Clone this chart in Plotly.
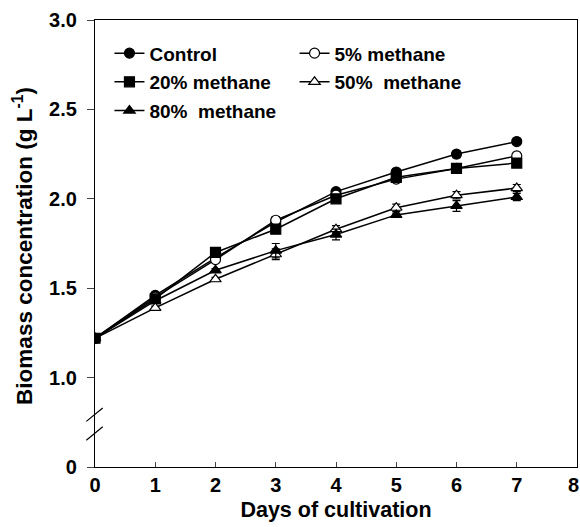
import plotly.graph_objects as go

days = [0, 1, 2, 3, 4, 5, 6, 7]

control = [1.22, 1.46, 1.67, 1.87, 2.04, 2.15, 2.25, 2.32]
control_err = [0.0, 0.01, 0.01, 0.01, 0.01, 0.01, 0.02, 0.01]
m5 = [1.22, 1.45, 1.66, 1.88, 2.02, 2.11, 2.17, 2.24]
m5_err = [0.0, 0.01, 0.01, 0.02, 0.01, 0.01, 0.01, 0.02]
m20 = [1.22, 1.44, 1.70, 1.83, 2.00, 2.12, 2.17, 2.20]
m20_err = [0.0, 0.01, 0.01, 0.01, 0.01, 0.01, 0.01, 0.01]
m50 = [1.22, 1.39, 1.55, 1.69, 1.83, 1.95, 2.02, 2.06]
m50_err = [0.0, 0.01, 0.01, 0.03, 0.02, 0.02, 0.02, 0.02]
m80 = [1.22, 1.43, 1.60, 1.71, 1.80, 1.91, 1.96, 2.01]
m80_err = [0.0, 0.01, 0.01, 0.04, 0.03, 0.01, 0.03, 0.02]

y_tickvals = [0.5, 1.0, 1.5, 2.0, 2.5, 3.0]
y_ticktext = ["0", "1.0", "1.5", "2.0", "2.5", "3.0"]
x_tickvals = [0, 1, 2, 3, 4, 5, 6, 7]
x_last_label = "8"

FONT = "Liberation Sans"
fig = go.Figure()

series = [
    ("Control", control, control_err, "circle", "black", "legend", "g1"),
    ("5% methane", m5, m5_err, "circle", "white", "legend2", "g2"),
    ("20% methane", m20, m20_err, "square", "black", "legend", "g3"),
    ("50%  methane", m50, m50_err, "triangle-up", "white", "legend2", "g4"),
    ("80%  methane", m80, m80_err, "triangle-up", "black", "legend", "g5"),
]

for name, vals, err, sym, fill, leg, grp in series:
    fig.add_trace(go.Scatter(
        x=days, y=vals, name=name, mode="lines+markers",
        line=dict(color="black", width=1.5),
        marker=dict(symbol=sym, size=10, color=fill, line=dict(color="black", width=1.2)),
        error_y=dict(type="data", array=err, visible=True, color="black", thickness=1.2, width=4),
        legend=leg, legendgroup=grp,
    ))

fig.update_layout(
    width=580, height=527,
    margin=dict(l=95, r=3, t=20, b=60),
    paper_bgcolor="white", plot_bgcolor="white",
    font=dict(family=FONT, size=19, color="black"),
    showlegend=True,
    legend=dict(x=0.03, y=0.968, xanchor="left", yanchor="top", bgcolor="rgba(0,0,0,0)",
                tracegroupgap=1, font=dict(family=FONT, size=19, color="black", weight="bold")),
    legend2=dict(x=0.414, y=0.968, xanchor="left", yanchor="top", bgcolor="rgba(0,0,0,0)",
                 tracegroupgap=1, font=dict(family=FONT, size=19, color="black", weight="bold")),
    xaxis=dict(range=[0, 8], tickvals=x_tickvals, ticks="inside", ticklen=5,
               tickwidth=1, showline=True, linecolor="black", linewidth=1.2, mirror=True,
               showgrid=False, zeroline=False,
               tickfont=dict(family=FONT, size=20, color="black", weight="bold"),
               title=dict(text="<b>Days of cultivation</b>", font=dict(family=FONT, size=21.5), standoff=6)),
    yaxis=dict(range=[0.5, 3.0], tickvals=y_tickvals, ticktext=y_ticktext, ticks="outside",
               ticklen=7, tickwidth=1, showline=True, linecolor="black", linewidth=1.2, mirror=True,
               showgrid=False, zeroline=False, ticklabelstandoff=6,
               tickfont=dict(family=FONT, size=20, color="black", weight="bold")),
)

fig.add_annotation(text="<b>" + x_last_label + "</b>", xref="x", yref="paper", x=8, y=-0.040,
                   xanchor="right", yanchor="middle", showarrow=False, xshift=4,
                   font=dict(family=FONT, size=20, color="black"))

fig.add_annotation(text="<b>Biomass concentration (g L<sup>-1</sup>)</b>", textangle=-90,
                   xref="paper", yref="paper", x=-0.15, y=0.494, xanchor="center", yanchor="middle",
                   showarrow=False, font=dict(family=FONT, size=22.5, color="black"))

# axis break marks
for (x0, y0, x1, y1) in [(-0.018, 0.102, 0.016, 0.132), (-0.018, 0.06, 0.016, 0.09)]:
    fig.add_shape(type="line", xref="paper", yref="paper", x0=x0, y0=y0, x1=x1, y1=y1,
                  line=dict(color="black", width=1.2))

fig.write_html("out.html")
